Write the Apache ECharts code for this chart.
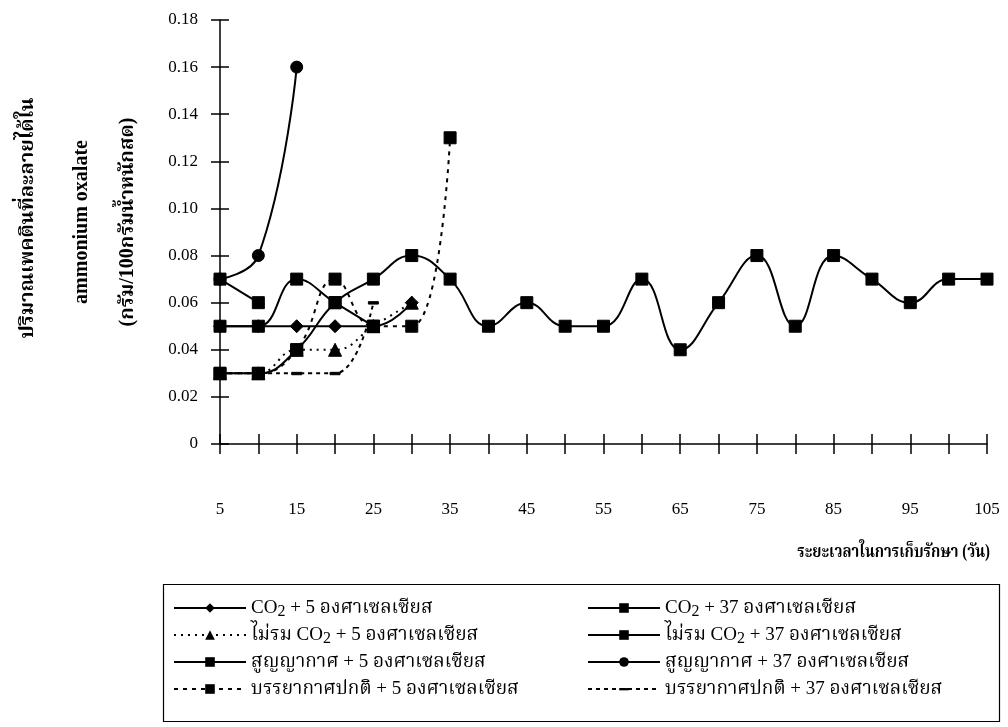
<!DOCTYPE html>
<html>
<head>
<meta charset="utf-8">
<script src="https://cdn.jsdelivr.net/npm/echarts@6/dist/echarts.min.js"></script>
<style>
html,body{margin:0;padding:0;background:#fff;}
#chart{width:1008px;height:727px;}
</style>
</head>
<body>
<div id="chart"></div>
<script>
const days = [5,10,15,20,25,30,35,40,45,50,55,60,65,70,75,80,85,90,95,100,105];
const yTicks = [0,0.02,0.04,0.06,0.08,0.10,0.12,0.14,0.16,0.18];

const co2_5    = [0.05,0.05,0.05,0.05,0.05,0.06];
const co2_37   = [0.07,0.06];
const noco2_5  = [0.03,0.03,0.04,0.04,0.05,0.06];
const noco2_37 = [0.05,0.05,0.07,0.06,0.05];
const vac_5    = [0.03,0.03,0.04,0.06,0.07,0.08,0.07,0.05,0.06,0.05,0.05,0.07,0.04,0.06,0.08,0.05,0.08,0.07,0.06,0.07,0.07];
const vac_37   = [0.07,0.08,0.16];
const air_5    = [0.03,0.03,0.04,0.07,0.05,0.05,0.13];
const air_37   = [0.03,0.03,0.03,0.03,0.06];

const names = [
  'CO₂ + 5 องศาเซลเซียส',
  'CO₂ + 37 องศาเซลเซียส',
  'ไม่รม CO₂ + 5 องศาเซลเซียส',
  'ไม่รม CO₂ + 37 องศาเซลเซียส',
  'สูญญากาศ + 5 องศาเซลเซียส',
  'สูญญากาศ + 37 องศาเซลเซียส',
  'บรรยากาศปกติ + 5 องศาเซลเซียส',
  'บรรยากาศปกติ + 37 องศาเซลเซียส'
];

const FONT = "'Liberation Serif','Noto Serif Thai','Noto Sans Thai','Loma','Garuda','DejaVu Serif',serif";
const DASH_SYMBOL = 'path://M0,0M10,10M0,4h10v2.4h-10z';

function mk(name, data, symbol, size, lineType) {
  return {
    name: name, type: 'line', data: data, xAxisIndex: 0, yAxisIndex: 0,
    smooth: 0.45, symbol: symbol, symbolSize: size, showSymbol: true,
    lineStyle: {color: '#000', width: 2, type: lineType},
    itemStyle: {color: '#000', borderColor: '#000'},
    emphasis: {disabled: true}, animation: false
  };
}

const series = [
  mk(names[0], co2_5, 'diamond', 13, 'solid'),
  mk(names[1], co2_37, 'rect', 12, 'solid'),
  mk(names[2], noco2_5, 'triangle', 13, [2,5]),
  mk(names[3], noco2_37, 'rect', 12, 'solid'),
  mk(names[4], vac_5, 'rect', 12, 'solid'),
  mk(names[5], vac_37, 'circle', 12, 'solid'),
  mk(names[6], air_5, 'rect', 12, [4,5]),
  mk(names[7], air_37, DASH_SYMBOL, 10, [4,4])
];

const chart = echarts.init(document.getElementById('chart'), null, {renderer: 'canvas'});
const legendCommon = {
  orient: 'vertical', itemWidth: 72, itemHeight: 12, itemGap: 3, height: 200,
  formatter: n => n.replace('CO₂', 'CO{s|2}'),
  textStyle: {fontFamily: FONT, fontSize: 19, lineHeight: 24, color: '#000',
    rich: {s: {fontFamily: FONT, fontSize: 16, lineHeight: 14, verticalAlign: 'bottom', color: '#000'}}},
  selectedMode: false
};
chart.setOption({
  backgroundColor: '#fff',
  animation: false,
  grid: {left: 220, right: 21, top: 20, bottom: 283, containLabel: false},
  xAxis: [
    {type: 'category', data: days, boundaryGap: false,
     axisLine: {lineStyle: {color: '#000', width: 1.5}},
     axisTick: {show: true, inside: false, length: 10, interval: 0, lineStyle: {color: '#000', width: 1.5}},
     axisLabel: {interval: 1, margin: 57, fontFamily: FONT, fontSize: 17, color: '#000'},
     splitLine: {show: false}},
    {type: 'category', data: days, boundaryGap: false, position: 'bottom',
     axisLine: {show: false},
     axisTick: {show: true, inside: true, length: 10, interval: 0, lineStyle: {color: '#000', width: 1.5}},
     axisLabel: {show: false}, splitLine: {show: false}}
  ],
  yAxis: [
    {type: 'value', min: 0, max: 0.18, interval: 0.02,
     axisLine: {show: true, lineStyle: {color: '#000', width: 1.5}},
     axisTick: {show: true, inside: false, length: 9, lineStyle: {color: '#000', width: 1.5}},
     axisLabel: {margin: 22, fontFamily: FONT, fontSize: 17, color: '#000',
       formatter: v => v === 0 ? '0' : v.toFixed(2)},
     splitLine: {show: false}},
    {type: 'value', min: 0, max: 0.18, interval: 0.02, position: 'left',
     axisLine: {show: false},
     axisTick: {show: true, inside: true, length: 9, lineStyle: {color: '#000', width: 1.5}},
     axisLabel: {show: false}, splitLine: {show: false}}
  ],
  legend: [
    Object.assign({}, legendCommon, {left: 168, top: 591, data: [names[0], names[2], names[4], names[6]]}),
    Object.assign({}, legendCommon, {left: 582, top: 591, data: [names[1], names[3], names[5], names[7]]})
  ],
  graphic: [
    {type: 'rect', shape: {x: 163.5, y: 584.5, width: 836, height: 137}, style: {fill: 'none', stroke: '#000', lineWidth: 1.2}, silent: true},
    {type: 'text', x: 990, y: 552, scaleX: 0.82, style: {text: 'ระยะเวลาในการเก็บรักษา (วัน)', font: "bold 18px " + FONT, fill: '#000', align: 'right', verticalAlign: 'middle'}},
    {type: 'text', x: 28, y: 218, rotation: Math.PI/2, style: {text: 'ปริมาณเพคตินที่ละลายได้ใน', font: "bold 20px " + FONT, fill: '#000', align: 'center', verticalAlign: 'middle'}},
    {type: 'text', x: 82, y: 222, rotation: Math.PI/2, style: {text: 'ammonium oxalate', font: "bold 20px " + FONT, fill: '#000', align: 'center', verticalAlign: 'middle'}},
    {type: 'text', x: 128, y: 222, rotation: Math.PI/2, style: {text: '(กรัม/100กรัมน้ำหนักสด)', font: "bold 20px " + FONT, fill: '#000', align: 'center', verticalAlign: 'middle'}}
  ],
  series: series
});
</script>
</body>
</html>
